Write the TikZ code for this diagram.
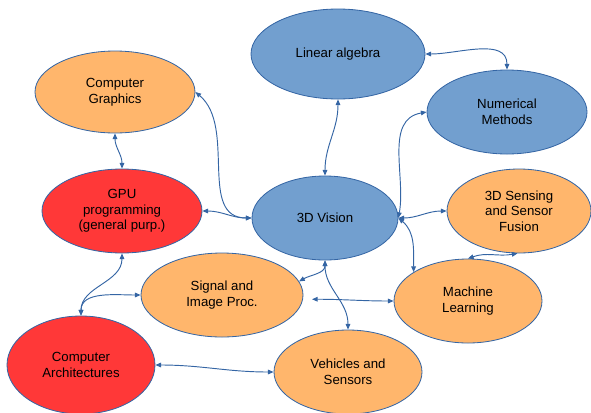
\documentclass[tikz,border=0pt]{standalone}
\usepackage{fontspec}
\setmainfont{Liberation Sans}
\usetikzlibrary{arrows.meta,shapes.geometric}
\definecolor{MapBlue}{HTML}{729FCF}
\definecolor{MapOrange}{HTML}{FFB66C}
\definecolor{MapRed}{HTML}{FF3838}
\definecolor{MapLine}{HTML}{3465A4}

\begin{document}
\begin{tikzpicture}[
      x=0.03cm,y=0.03cm,
      topic/.style={ellipse,draw=MapLine,fill=MapOrange,line width=.7pt,
        minimum width=4.44cm,minimum height=2.52cm,inner sep=0pt,align=center,
        font=\fontsize{11.3}{13.3}\selectfont},
      core/.style={topic,fill=MapBlue},
      hw/.style={topic,fill=MapRed},
      arrow/.style={{Triangle[length=1.7mm,width=1.4mm]}-{Triangle[length=1.7mm,width=1.4mm]},
        line width=.8pt,MapLine}
    ]
      \useasboundingbox (0,0) rectangle (591,-412);
      \node[core,minimum width=5.22cm,minimum height=2.7cm] (linalg) at (338,-54) {Linear algebra};
      \node[core,minimum width=4.8cm] (numeric) at (507,-112) {Numerical\\Methods};
      \node[core,minimum width=4.38cm] (vision) at (325,-218) {3D Vision};
      \node[topic,minimum width=4.32cm] (sensing) at (519,-211) {3D Sensing\\and Sensor\\Fusion};
      \node[topic,minimum width=4.8cm,minimum height=2.46cm] (graphics) at (115,-92) {Computer\\Graphics};
      \node[hw,minimum width=4.8cm] (gpu) at (122,-211) {GPU\\programming\\(general purp.)};
      \node[topic,minimum width=4.86cm] (signal) at (222,-295) {Signal and\\Image Proc.};
      \node[hw,minimum height=2.94cm] (arch) at (81,-365) {Computer\\Architectures};
      \node[topic] (vehicles) at (348,-372) {Vehicles and\\Sensors};
      \node[topic] (learning) at (468,-301) {Machine\\Learning};
      \coordinate (sigtip) at ([xshift=.27cm]signal.-3);
      \draw[arrow] (linalg.east) to[out=0,in=90] (numeric.north);
      \draw[arrow] (linalg.south) to[out=-90,in=90] (vision.north);
      \draw[arrow] (numeric.west) to[out=190,in=80] (vision.east);
      \draw[arrow] (vision.east) to[out=0,in=180] (sensing.west);
      \draw[arrow] (vision.east) to[out=-40,in=90] (learning.152);
      \draw[arrow] (learning.north) to[out=20,in=190] (sensing.268);
      \draw[arrow] (vision.south) to[out=-90,in=30] (signal.10);
      \draw[arrow] (vision.south) to[out=-90,in=90] (vehicles.north);
      \draw[arrow] (sigtip) to[out=0,in=180] (learning.west);
      \draw[arrow] (graphics.east) to[out=-40,in=180] (vision.west);
      \draw[arrow] (gpu.east) to[out=0,in=180] (vision.west);
      \draw[arrow] (graphics.south) to[out=-90,in=90] (gpu.north);
      \draw[arrow] (gpu.south) to[out=-90,in=90] (arch.north);
      \draw[arrow] (arch.north) to[out=90,in=180] (signal.west);
      \draw[arrow] (arch.east) to[out=0,in=180] (vehicles.west);
    \end{tikzpicture}
\end{document}
